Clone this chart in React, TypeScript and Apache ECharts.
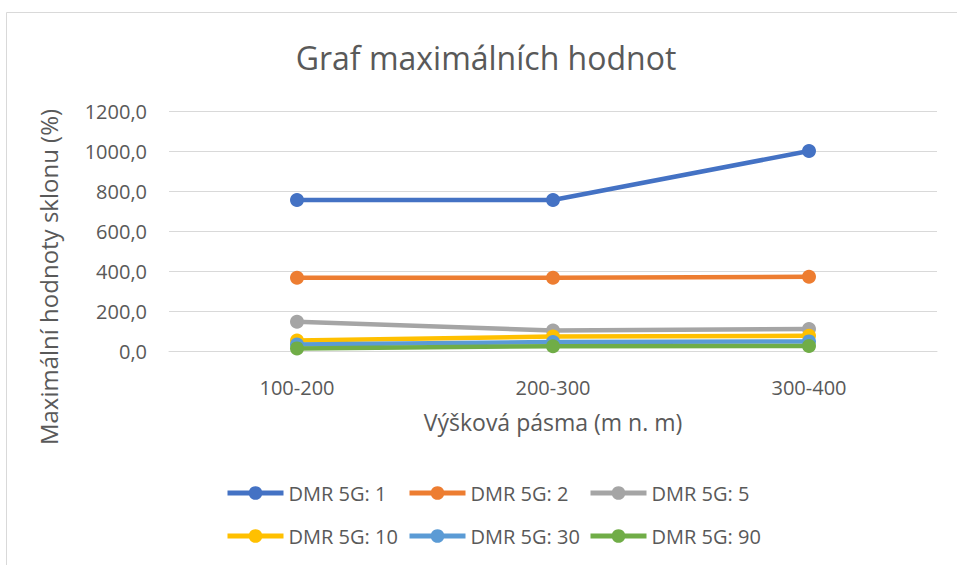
import React, { useEffect, useRef } from "react";
import * as echarts from "echarts";

const categories = ["100-200", "200-300", "300-400"];
const seriesNames = ["DMR 5G: 1", "DMR 5G: 2", "DMR 5G: 5", "DMR 5G: 10", "DMR 5G: 30", "DMR 5G: 90"];
const dmr1 = [755, 755, 1000];
const dmr2 = [366, 366, 371];
const dmr5 = [146, 102, 110];
const dmr10 = [52, 72, 76];
const dmr30 = [32, 45, 48];
const dmr90 = [13, 24, 25];
const seriesValues = [dmr1, dmr2, dmr5, dmr10, dmr30, dmr90];
const colors = ["#4472C4", "#ED7D31", "#A5A5A5", "#FFC000", "#5B9BD5", "#70AD47"];
const yTicks = { min: 0, max: 1200, interval: 200 };

const titleText = "Graf maximálních hodnot";
const yTitle = "Maximální hodnoty sklonu (%)";
const xTitle = "Výšková pásma (m n. m)";

const FONT = "'Open Sans', sans-serif";
const TXT = "#595959";

export default function App() {
  const ref = useRef<HTMLDivElement>(null);
  useEffect(() => {
    if (!ref.current) return;
    const chart = echarts.init(ref.current, undefined, { renderer: "svg" });
    const legendCols = [0, 1, 2].map((c) => ({
      orient: "vertical" as const,
      left: [220, 402, 583][c],
      top: 476,
      itemWidth: 56,
      itemHeight: 17,
      itemGap: 19,
      lineStyle: { width: 5 },
      data: [seriesNames[c], seriesNames[c + 3]],
      textStyle: { fontFamily: FONT, fontSize: 20, color: TXT, lineHeight: 24 },
    }));
    chart.setOption({
      animation: false,
      backgroundColor: "#ffffff",
      textStyle: { fontFamily: FONT },
      grid: { left: 169, right: 20, top: 111, bottom: 214 },
      legend: legendCols,
      xAxis: {
        type: "category",
        data: categories,
        boundaryGap: true,
        axisLine: { show: true, lineStyle: { color: "#D9D9D9", width: 1 } },
        axisTick: { show: false },
        axisLabel: { fontFamily: FONT, fontSize: 20, color: TXT, margin: 26 },
      },
      yAxis: {
        type: "value",
        min: yTicks.min,
        max: yTicks.max,
        interval: yTicks.interval,
        axisLine: { show: false },
        axisTick: { show: false },
        splitLine: { lineStyle: { color: "#D9D9D9", width: 1 } },
        axisLabel: {
          fontFamily: FONT,
          fontSize: 20,
          color: TXT,
          margin: 22,
          formatter: (v: number) => v.toFixed(1).replace(".", ","),
        },
      },
      graphic: [
        {
          type: "rect",
          shape: { x: 6.5, y: 12.5, width: 1000, height: 600 },
          style: { fill: "none", stroke: "#D9D9D9", lineWidth: 1 },
          silent: true,
        },
        {
          type: "text",
          x: 486,
          y: 57,
          style: {
            text: titleText,
            fontFamily: FONT,
            fontSize: 32,
            fill: TXT,
            textAlign: "center",
            textVerticalAlign: "middle",
          },
        },
        {
          type: "text",
          x: 48,
          y: 277,
          rotation: Math.PI / 2,
          style: {
            text: yTitle,
            fontFamily: FONT,
            fontSize: 24,
            fill: TXT,
            textAlign: "center",
            textVerticalAlign: "middle",
          },
        },
        {
          type: "text",
          x: 553,
          y: 422,
          style: {
            text: xTitle,
            fontFamily: FONT,
            fontSize: 23,
            fill: TXT,
            textAlign: "center",
            textVerticalAlign: "middle",
          },
        },
      ],
      series: seriesNames.map((name, i) => ({
        name,
        type: "line",
        data: seriesValues[i],
        symbol: "circle",
        symbolSize: 14,
        showSymbol: true,
        itemStyle: { color: colors[i] },
        lineStyle: { color: colors[i], width: 4.5 },
        z: 2 + i,
      })),
    });
    return () => chart.dispose();
  }, []);
  return (
    <div
      ref={ref}
      style={{ position: "fixed", left: 0, top: 0, width: 957, height: 565 }}
    />
  );
}
